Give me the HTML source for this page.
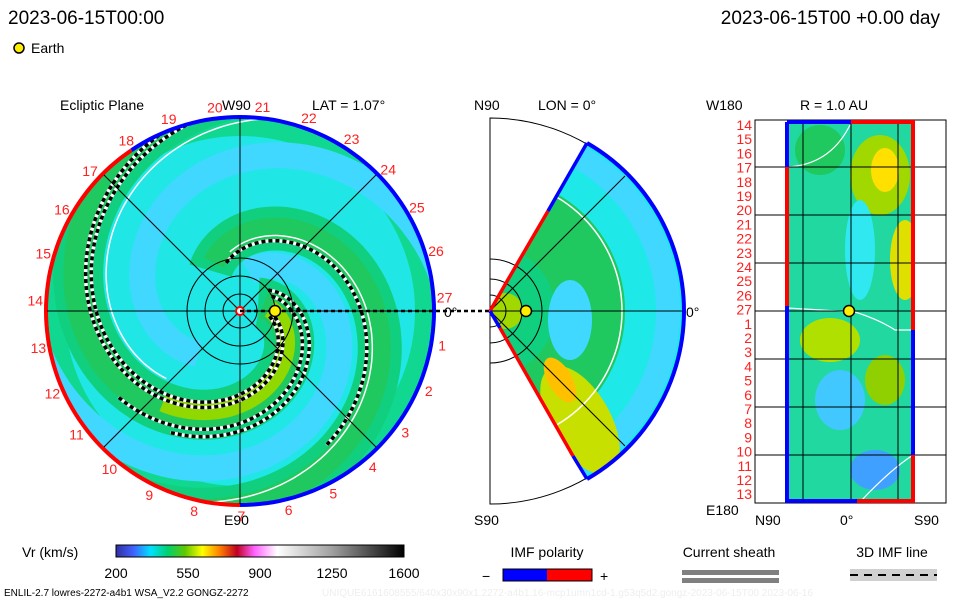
<!DOCTYPE html>
<html><head><meta charset="utf-8"><style>
body{margin:0;background:#fff;}
svg{display:block;font-family:"Liberation Sans",sans-serif;}
</style></head><body>
<svg id="s" width="960" height="600" viewBox="0 0 960 600">
<defs>
<clipPath id="disk"><circle cx="240" cy="311" r="193"/></clipPath>
<clipPath id="wedge"><path d="M490,311 L587,143 A194,194 0 0 1 587,479 Z"/></clipPath>
<clipPath id="box"><rect x="787" y="122" width="126" height="380"/></clipPath>
<linearGradient id="cb" x1="0" x2="1">
<stop offset="0" stop-color="#3030a0"/><stop offset="0.06" stop-color="#4060ff"/><stop offset="0.12" stop-color="#00e0ff"/><stop offset="0.18" stop-color="#00d070"/><stop offset="0.24" stop-color="#60c800"/><stop offset="0.3" stop-color="#ffff00"/><stop offset="0.36" stop-color="#ff8000"/><stop offset="0.42" stop-color="#c00020"/><stop offset="0.48" stop-color="#ff60ff"/><stop offset="0.56" stop-color="#ffffff"/><stop offset="0.75" stop-color="#a0a0a0"/><stop offset="1" stop-color="#000000"/>
</linearGradient>
</defs>
<text x="8" y="24" font-size="19">2023-06-15T00:00</text>
<text x="940" y="24" font-size="19" text-anchor="end">2023-06-15T00 +0.00 day</text>
<circle cx="19" cy="48" r="5" fill="#ffee00" stroke="#000" stroke-width="1.5"/>
<text x="31" y="53" font-size="14">Earth</text>

<text x="60" y="110" font-size="14">Ecliptic Plane</text>
<text x="222" y="110" font-size="14">W90</text>
<text x="312" y="110" font-size="14">LAT = 1.07°</text>
<text x="224" y="525" font-size="14">E90</text>

<g id="eclip" clip-path="url(#disk)">
<rect x="40" y="110" width="400" height="400" fill="#20e6e6"/>
<circle cx="240" cy="311" r="185" fill="none" stroke="#10d890" stroke-width="20"/>
<g id="arms"></g>
</g>
<g id="ring"></g>
<g stroke="#000" stroke-width="1" fill="none">
<line x1="240" y1="118" x2="240" y2="504"/><line x1="47" y1="311" x2="433" y2="311"/>
<line x1="104" y1="175" x2="376" y2="447"/><line x1="104" y1="447" x2="376" y2="175"/>
<circle cx="240" cy="311" r="17"/><circle cx="240" cy="311" r="35"/><circle cx="240" cy="311" r="53"/>
</g>
<circle cx="240" cy="311" r="4" fill="#fff" stroke="#f00" stroke-width="2"/>
<g id="days" font-size="14" fill="#ff2020" text-anchor="middle"></g>

<line x1="240" y1="311" x2="490" y2="311" stroke="#000" stroke-width="2.5" stroke-dasharray="4,3"/>
<circle cx="275" cy="311" r="5.5" fill="#ffee00" stroke="#000" stroke-width="1.5"/>
<text x="444" y="317" font-size="14">0°</text>

<text x="474" y="110" font-size="14">N90</text>
<text x="538" y="110" font-size="14">LON = 0°</text>
<text x="474" y="525" font-size="14">S90</text>
<text x="686" y="317" font-size="14">0°</text>
<path d="M490,118 A193,193 0 0 1 490,504 Z" fill="none" stroke="#000" stroke-width="1"/>
<g clip-path="url(#wedge)">
<rect x="480" y="130" width="220" height="360" fill="#1ee8e8"/>
<circle cx="490" cy="311" r="80" fill="#10d080"/>
<circle cx="490" cy="311" r="100" fill="none" stroke="#20c860" stroke-width="70"/>
<circle cx="490" cy="311" r="178" fill="none" stroke="#40d8ff" stroke-width="24"/>
<ellipse cx="580" cy="420" rx="30" ry="60" fill="#c8e000" transform="rotate(-30 580 420)"/>
<ellipse cx="560" cy="380" rx="12" ry="25" fill="#ffc000" transform="rotate(-30 560 380)"/>
<circle cx="505" cy="311" r="18" fill="#a0d800"/>
<ellipse cx="570" cy="320" rx="22" ry="40" fill="#40d8ff"/>
<circle cx="490" cy="311" r="132" fill="none" stroke="#fff" stroke-width="1.5"/>
</g>
<g stroke="#000" stroke-width="1" fill="none">
<path d="M490,295 A16,16 0 0 1 490,327"/><path d="M490,279 A32,32 0 0 1 490,343"/><path d="M490,259 A52,52 0 0 1 490,363"/>
<line x1="490" y1="311" x2="684" y2="311"/><line x1="490" y1="311" x2="625" y2="176"/><line x1="490" y1="311" x2="625" y2="446"/>
</g>
<path d="M587,143 A194,194 0 0 1 587,479" fill="none" stroke="#0000ff" stroke-width="4"/>
<path d="M490,311 L506,283 L548,211" fill="none" stroke="#ff0000" stroke-width="3.5"/>
<path d="M548,211 L587,143" fill="none" stroke="#0000ff" stroke-width="3.5"/>
<path d="M490,311 L500,328" fill="none" stroke="#0000ff" stroke-width="3.5"/>
<path d="M500,328 L573,456" fill="none" stroke="#ff0000" stroke-width="3.5"/>
<path d="M573,456 L587,479" fill="none" stroke="#0000ff" stroke-width="3.5"/>
<circle cx="526" cy="311" r="5.5" fill="#ffee00" stroke="#000" stroke-width="1.5"/>

<text x="706" y="110" font-size="14">W180</text>
<text x="800" y="110" font-size="14">R = 1.0 AU</text>
<text x="706" y="515" font-size="14">E180</text>
<text x="755" y="525" font-size="14">N90</text>
<text x="840" y="525" font-size="14">0°</text>
<text x="914" y="525" font-size="14">S90</text>
<rect x="755" y="120" width="191" height="383" fill="none" stroke="#000"/>
<g clip-path="url(#box)">
<rect x="780" y="118" width="140" height="390" fill="#20d8a0"/>
<ellipse cx="880" cy="175" rx="30" ry="40" fill="#a0d800"/>
<ellipse cx="885" cy="170" rx="14" ry="22" fill="#ffe000"/>
<ellipse cx="905" cy="260" rx="15" ry="40" fill="#e0e000"/>
<ellipse cx="830" cy="340" rx="30" ry="22" fill="#b0e000"/>
<ellipse cx="885" cy="380" rx="20" ry="25" fill="#90d000"/>
<ellipse cx="840" cy="400" rx="25" ry="30" fill="#40c8ff"/>
<ellipse cx="875" cy="470" rx="25" ry="20" fill="#40a0ff"/>
<ellipse cx="860" cy="250" rx="15" ry="50" fill="#30e8f0"/>
<ellipse cx="820" cy="150" rx="25" ry="25" fill="#20c860"/>
<path d="M787,167 Q830,165 850,125" fill="none" stroke="#fff" stroke-width="1.2"/>
<path d="M787,308 L855,312 Q880,320 895,330 L913,330" fill="none" stroke="#fff" stroke-width="1.2"/>
<path d="M860,502 Q890,470 913,455" fill="none" stroke="#fff" stroke-width="1.2"/>
</g>
<g stroke="#000" stroke-width="1">
<line x1="803" y1="120" x2="803" y2="503"/><line x1="851" y1="120" x2="851" y2="503"/><line x1="898" y1="120" x2="898" y2="503"/>
<line x1="755" y1="167" x2="946" y2="167"/><line x1="755" y1="215" x2="946" y2="215"/><line x1="755" y1="263" x2="946" y2="263"/><line x1="755" y1="311" x2="946" y2="311"/><line x1="755" y1="359" x2="946" y2="359"/><line x1="755" y1="407" x2="946" y2="407"/><line x1="755" y1="455" x2="946" y2="455"/>
</g>
<path d="M787,122 L851,122" stroke="#0000ff" stroke-width="4"/><path d="M851,122 L913,122 L913,330" stroke="#ff0000" stroke-width="4" fill="none"/>
<path d="M913,330 L913,455" stroke="#0000ff" stroke-width="4"/><path d="M913,455 L913,501 L857,501" stroke="#ff0000" stroke-width="4" fill="none"/>
<path d="M857,501 L787,501 L787,306" stroke="#0000ff" stroke-width="4" fill="none"/><path d="M787,306 L787,167" stroke="#ff0000" stroke-width="4"/><path d="M787,167 L787,122" stroke="#0000ff" stroke-width="4"/>
<circle cx="849" cy="311" r="5.5" fill="#ffee00" stroke="#000" stroke-width="1.5"/>
<g id="rdays" font-size="14" fill="#ff2020" text-anchor="end"></g>

<text x="22" y="557" font-size="14">Vr (km/s)</text>
<rect x="116" y="545" width="288" height="12" fill="url(#cb)" stroke="#000"/>
<g id="cbt" font-size="14" text-anchor="middle"></g>
<text x="547" y="557" font-size="14" text-anchor="middle">IMF polarity</text>
<text x="482" y="581" font-size="14">−</text>
<rect x="503" y="569" width="44" height="12" fill="#0000ff"/>
<rect x="547" y="569" width="45" height="12" fill="#ff0000"/>
<rect x="503" y="569" width="89" height="12" fill="none" stroke="#000"/>
<text x="600" y="581" font-size="14">+</text>
<text x="729" y="557" font-size="14" text-anchor="middle">Current sheath</text>
<rect x="682" y="570" width="97" height="5" fill="#808080"/>
<rect x="682" y="578" width="97" height="5" fill="#808080"/>
<text x="892" y="557" font-size="14" text-anchor="middle">3D IMF line</text>
<rect x="850" y="569" width="87" height="12" fill="#d0d0d0"/>
<line x1="850" y1="575" x2="937" y2="575" stroke="#000" stroke-width="2" stroke-dasharray="8,6"/>
<text x="4" y="596" font-size="10">ENLIL-2.7 lowres-2272-a4b1 WSA_V2.2 GONGZ-2272</text>
<text x="322" y="596" font-size="10" fill="#eeeeee">UNIQUE6161608555/640x30x90x1.2272-a4b1.16-mcp1umn1cd-1.g53q5d2.gongz-2023-06-15T00   2023-06-16</text>
</svg>
<script>
const NS="http://www.w3.org/2000/svg";
const cbTicks=[200,550,900,1250,1600];
const dayLabels=[14,15,16,17,18,19,20,21,22,23,24,25,26,27,1,2,3,4,5,6,7,8,9,10,11,12,13];
const cbMin=200,cbMax=1600,cbX=116,cbW=288;
function cbScale(v){return cbX+(v-cbMin)/(cbMax-cbMin)*cbW;}
const cbt=document.getElementById('cbt');
cbTicks.forEach(v=>{const t=document.createElementNS(NS,'text');t.setAttribute('x',cbScale(v));t.setAttribute('y',578);t.textContent=v;


cbt.appendChild(t);});
const days=document.getElementById('days'),rdays=document.getElementById('rdays');
dayLabels.forEach((d,i)=>{const a=(177-i*13.33)*Math.PI/180;const t=document.createElementNS(NS,'text');
t.setAttribute('x',(240+205*Math.cos(a)).toFixed(1));t.setAttribute('y',(311-205*Math.sin(a)+5).toFixed(1));t.textContent=d;


days.appendChild(t);
const r=document.createElementNS(NS,'text');r.setAttribute('x',752);r.setAttribute('y',(130+i*14.2).toFixed(1));r.textContent=d;


rdays.appendChild(r);});
const ring=document.getElementById('ring');
function arc(a0,a1,col){const r=194,p=[];for(let a=a0;a<=a1;a+=2){const t=a*Math.PI/180;p.push((240+r*Math.cos(t)).toFixed(1)+','+(311-r*Math.sin(t)).toFixed(1));}
const e=document.createElementNS(NS,'polyline');e.setAttribute('points',p.join(' '));e.setAttribute('fill','none');e.setAttribute('stroke',col);e.setAttribute('stroke-width',4);


ring.appendChild(e);}
arc(124,270,'#ff0000');arc(-90,124,'#0000ff');
const arms=document.getElementById('arms');
function spiral(phase,col,w,dash,r0,r1){const p=[];for(let r=(r0||12);r<=(r1||215);r+=1.5){const th=phase-r*0.026;
p.push((240+r*Math.cos(th)).toFixed(1)+','+(311-r*Math.sin(th)).toFixed(1));}
const e=document.createElementNS(NS,'polyline');e.setAttribute('points',p.join(' '));e.setAttribute('fill','none');e.setAttribute('stroke',col);e.setAttribute('stroke-width',w);
if(dash)e.setAttribute('stroke-dasharray',dash);


arms.appendChild(e);}
spiral(2.4,'#40d8ff',26,null,40);spiral(5.5,'#40d8ff',26,null,60);
spiral(0.95,'#10d080',50,null,20);spiral(0.95,'#20c860',30,null,25);
spiral(3.5,'#10d080',44,null,50);spiral(3.5,'#20c860',22,null,55);
spiral(0.85,'#90d800',18,null,30,120);
spiral(0.6,'#ffffff',3.5,null,30,200);spiral(0.6,'#000',3.5,'4,3',30,200);spiral(0.75,'#ffffff',3.5,null,30,200);spiral(0.75,'#000',3.5,'4,3',30,200);
spiral(1.35,'#ffffff',3.5,null,35,150);spiral(1.35,'#000',3.5,'4,3',35,150);spiral(1.55,'#ffffff',3.5,null,35,140);spiral(1.55,'#000',3.5,'4,3',35,140);
spiral(3.15,'#ffffff',3.5,null,50,160);spiral(3.15,'#000',3.5,'4,3',50,160);
spiral(3.3,'#ffffff',1.5,null,60);spiral(0.2,'#ffffff',1.5,null,100);
</script>
</body></html>
